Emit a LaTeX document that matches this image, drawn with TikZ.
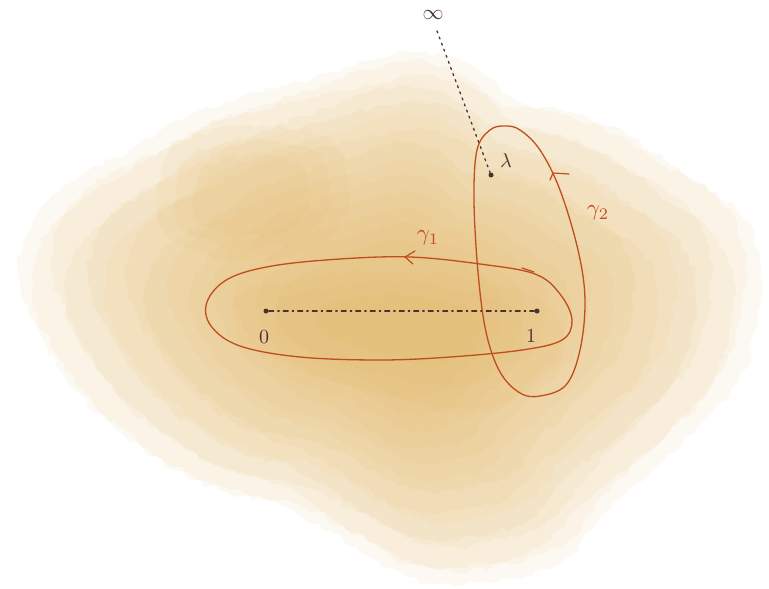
\documentclass[tikz,border=0pt]{standalone}
\usepackage{graphicx}
\usetikzlibrary{arrows.meta,decorations.pathmorphing}
\definecolor{wash}{RGB}{226,176,86}
\definecolor{loop}{RGB}{190,78,28}
\definecolor{ink}{RGB}{75,50,48}
\newcommand\mysz[2]{\scalebox{#1}{#2}}
\tikzset{
  layer/.style={fill=wash, fill opacity=0.075, draw=none,
    decorate, decoration={random steps, segment length=7pt, amplitude=3pt}},
  curve/.style={draw=loop, line width=1.3pt, line cap=round, line join=round},
  pt/.style={circle, fill=ink, inner sep=0pt, minimum size=5pt},
  lbl/.style={text=ink, inner sep=1pt},
  glbl/.style={text=loop, inner sep=1pt},
  chev/.style={draw=loop, line width=1.2pt, line cap=round, line join=round},
}
\begin{document}
\begin{tikzpicture}[x=1pt,y=-1pt]
\pgfmathsetseed{7}
\useasboundingbox (0,0) rectangle (769,589);
\fill[white] (0,0) rectangle (769,589);
% watercolor wash
\foreach \s/\r in {1.0/0,0.96/3,0.92/-3,0.87/4,0.82/-2,0.77/2,0.72/-3,0.66/3,0.6/-1,0.54/2,0.48/-2,0.42/1,0.36/0,0.3/2}{
  \fill[layer, scale around={\s:(390,320)}, rotate around={\r:(390,320)}]
    plot[smooth cycle, tension=0.7] coordinates {
    (420,52) (470,64) (515,100) (565,112) (625,134) (685,175) (735,208) (760,258)
    (758,320) (738,382) (700,425) (652,470) (605,512) (565,558) (500,580) (430,583)
    (380,562) (330,532) (280,505) (228,492) (175,470) (120,432) (78,392) (40,335)
    (20,280) (32,222) (72,182) (130,150) (192,114) (262,92) (332,72) (382,58)};
}
\foreach \s in {1.0,0.8,0.6}{
  \fill[layer, scale around={\s:(250,200)}]
    plot[smooth cycle] coordinates {(170,150) (250,125) (330,140) (350,200) (310,250) (220,260) (160,225)};
}
\foreach \s in {1.0,0.75,0.5}{
  \fill[layer, scale around={\s:(400,320)}]
    plot[smooth cycle] coordinates {(250,290) (400,270) (540,300) (560,360) (480,410) (330,380) (240,340)};
}
% nodes
\node[pt] (z) at (266,311) {};
\node[pt] (o) at (537,311) {};
\node[pt] (l) at (491,175) {};
\node[lbl] (zl) at (264,337) {\mysz{2}{$0$}};
\node[lbl] (ol) at (531,336) {\mysz{2}{$1$}};
\node[lbl] (ll) at (506,161) {\mysz{2}{$\lambda$}};
\node[text=ink, inner sep=0pt] (inf) at (433,15) {\mysz{2.1}{$\infty$}};
\node[glbl] (g1) at (428,238) {\mysz{2.3}{$\gamma_1$}};
\node[glbl] (g2) at (598,213) {\mysz{2.3}{$\gamma_2$}};
% connectors
\coordinate (infend) at (437,31);
\draw[ink, line width=1.3pt, dash pattern=on 2pt off 4.5pt, line cap=round] (infend) -- (l);
\draw[ink, line width=1.2pt, dash pattern=on 5pt off 4pt on 1.5pt off 4pt, line cap=round] (z) -- (o);
% gamma 1
\draw[curve] plot[smooth cycle, tension=0.6] coordinates {
  (207,302) (228,279) (272,266) (340,259) (410,257) (480,264) (535,274) (560,294)
  (572,320) (562,340) (522,350) (450,357) (380,360) (300,357) (240,346) (211,326)};
\draw[chev] (415,251) -- (405,257) -- (413,264);
\draw[chev] (522,268) -- (534,272);
% gamma 2
\draw[curve] plot[smooth cycle, tension=0.6] coordinates {
  (505,126) (520,130) (540,150) (560,190) (578,250) (585,300) (580,350) (566,385)
  (540,396) (520,393) (500,372) (486,332) (478,272) (474,200) (477,150) (490,130)};
\draw[chev] (550,180) -- (553,173) -- (569,174);
\end{tikzpicture}
\end{document}
